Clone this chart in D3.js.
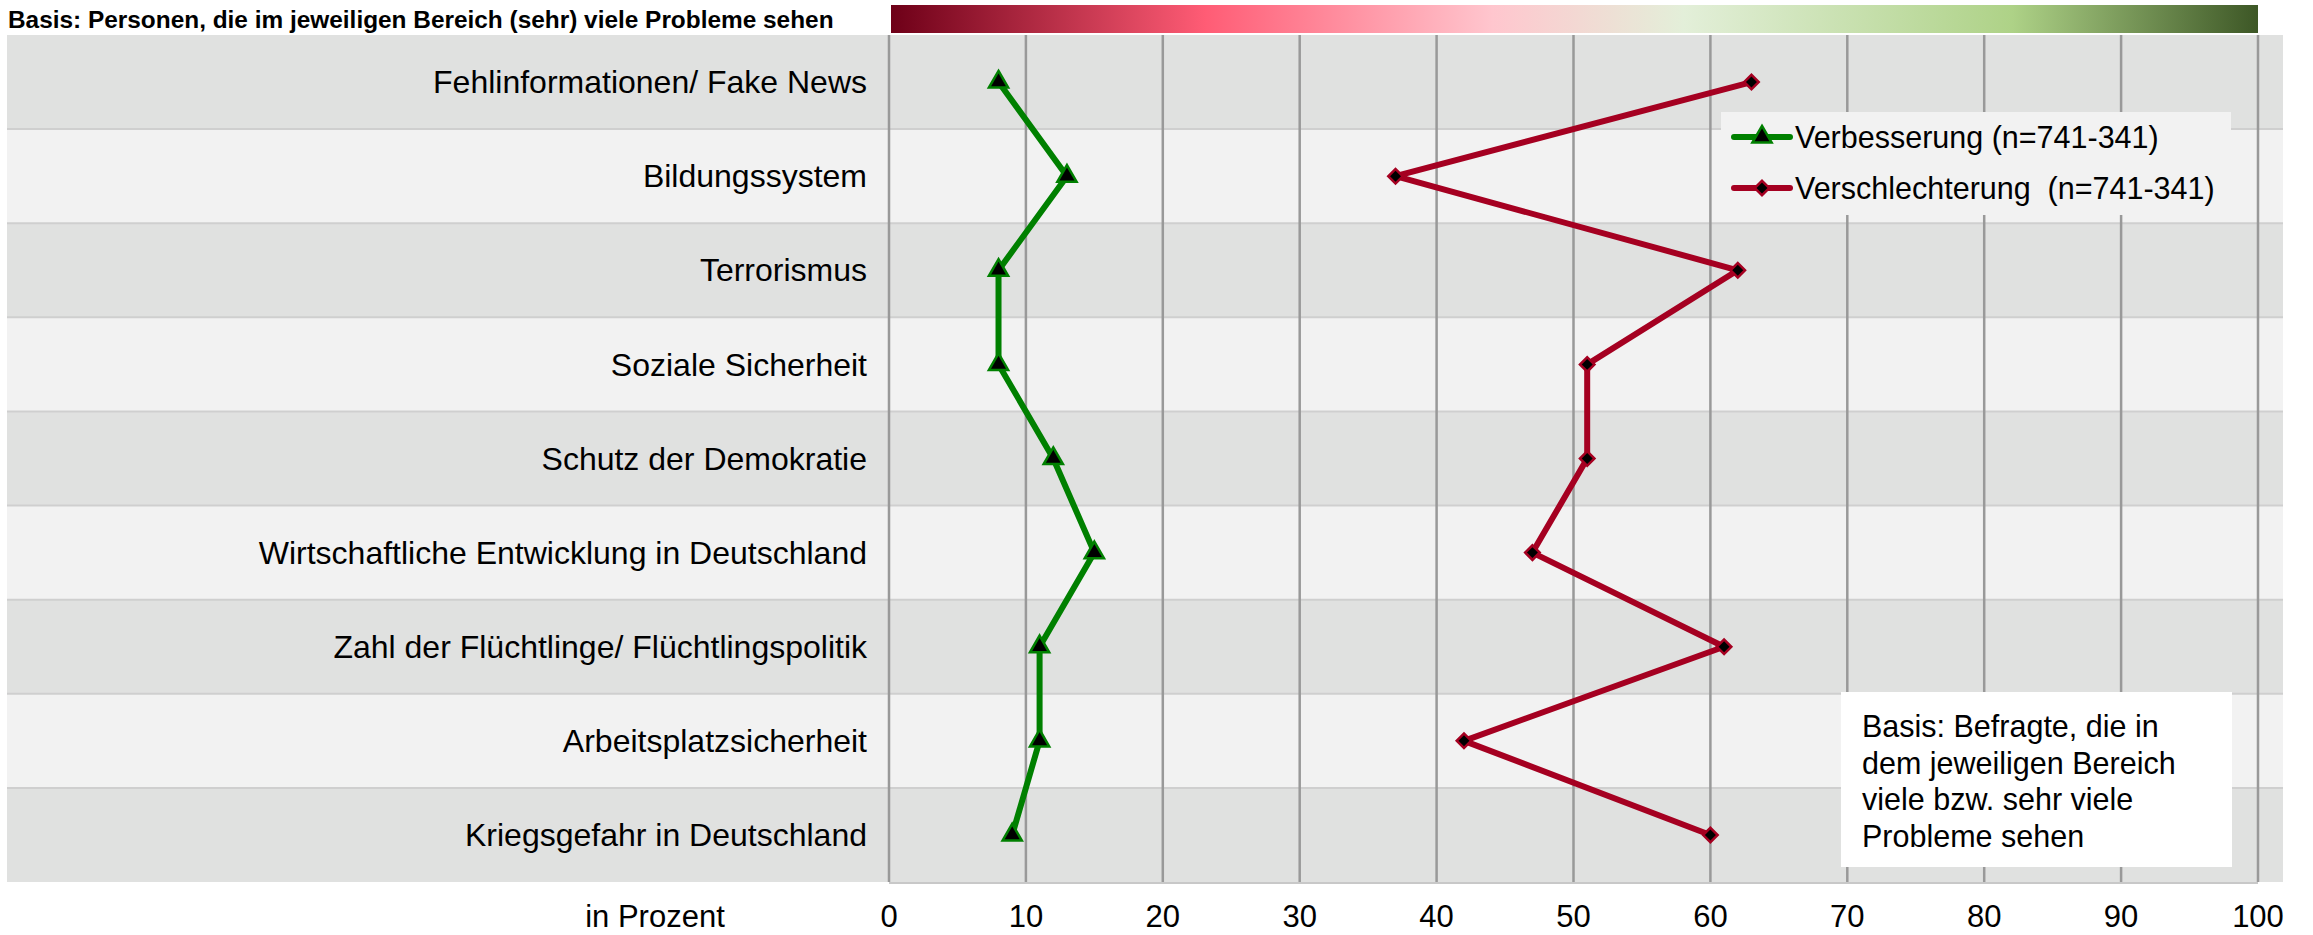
<!DOCTYPE html>
<html><head><meta charset="utf-8">
<script src="https://cdn.jsdelivr.net/npm/d3@7"></script>
<style>html,body{margin:0;padding:0;background:#fff;}svg{display:block;font-family:"Liberation Sans",Arial,sans-serif;}text{white-space:pre;}</style>
</head><body>
<script>
const categories = ["Fehlinformationen/ Fake News","Bildungssystem","Terrorismus","Soziale Sicherheit","Schutz der Demokratie","Wirtschaftliche Entwicklung in Deutschland","Zahl der Flüchtlinge/ Flüchtlingspolitik","Arbeitsplatzsicherheit","Kriegsgefahr in Deutschland"];
const verbesserung = [8,13,8,8,12,15,11,11,9];
const verschlechterung = [63,37,62,51,51,47,61,42,60];
const seriesNames = ["Verbesserung (n=741-341)","Verschlechterung  (n=741-341)"];
const xTicks = [0,10,20,30,40,50,60,70,80,90,100];
const title = "Basis: Personen, die im jeweiligen Bereich (sehr) viele Probleme sehen";
const axisLabel = "in Prozent";
const noteLines = ["Basis: Befragte, die in","dem jeweiligen Bereich","viele bzw. sehr viele","Probleme sehen"];

const W=2313,H=935;
const svg=d3.select("body").append("svg").attr("width",W).attr("height",H);
const x=d3.scaleLinear().domain([0,100]).range([889,2258]);
const y=d3.scaleBand().domain(categories).range([35,882]).padding(0);

// gradient bar
const defs=svg.append("defs");
const grad=defs.append("linearGradient").attr("id","g1");
[[0,"#6e0018"],[0.23,"#ff5c75"],[0.44,"#ffc6ce"],[0.58,"#e3efd9"],[0.82,"#aed287"],[1,"#3d5726"]]
 .forEach(s=>grad.append("stop").attr("offset",s[0]).attr("stop-color",s[1]));
svg.append("rect").attr("x",x(0)+2).attr("y",5).attr("width",x(100)-x(0)-2).attr("height",28).attr("fill","url(#g1)");

svg.append("text").attr("x",8).attr("y",28).attr("font-size",24.4).attr("font-weight","bold").attr("fill","#000").text(title);

// bands
svg.append("g").selectAll("rect").data(categories).join("rect")
 .attr("x",7).attr("y",d=>y(d)).attr("width",2283-7).attr("height",y.bandwidth())
 .attr("fill",(d,i)=>i%2===0?"#e0e1e0":"#f2f2f2");
svg.append("g").selectAll("line").data(categories.slice(1)).join("line")
 .attr("x1",7).attr("x2",2283).attr("y1",d=>y(d)).attr("y2",d=>y(d))
 .attr("stroke","#cfcfcf").attr("stroke-width",2);

// gridlines
svg.append("g").selectAll("line").data(xTicks).join("line")
 .attr("x1",d=>x(d)).attr("x2",d=>x(d)).attr("y1",35).attr("y2",882)
 .attr("stroke","#999").attr("stroke-width",2.5);
svg.append("line").attr("x1",x(0)).attr("x2",x(100)).attr("y1",883).attr("y2",883).attr("stroke","#c8c8c8").attr("stroke-width",2);

// category labels
svg.append("g").selectAll("text").data(categories).join("text")
 .attr("x",867).attr("y",d=>y(d)+y.bandwidth()/2).attr("dy","0.35em")
 .attr("text-anchor","end").attr("font-size",32).attr("fill","#000").text(d=>d);

// x tick labels
svg.append("g").selectAll("text").data(xTicks).join("text")
 .attr("x",d=>x(d)).attr("y",927).attr("text-anchor","middle").attr("font-size",31).text(d=>d);
svg.append("text").attr("x",655).attr("y",927).attr("text-anchor","middle").attr("font-size",31).text(axisLabel);

// lines
const line=d3.line().x(d=>x(d.v)).y(d=>y(d.c)+y.bandwidth()/2);
const gData=categories.map((c,i)=>({c,v:verbesserung[i]}));
const rData=categories.map((c,i)=>({c,v:verschlechterung[i]}));
const green="#008000", red="#a50021";
svg.append("path").datum(gData).attr("d",line).attr("fill","none").attr("stroke",green).attr("stroke-width",6).attr("stroke-linejoin","round");
svg.append("path").datum(rData).attr("d",line).attr("fill","none").attr("stroke",red).attr("stroke-width",6).attr("stroke-linejoin","round");
const tri=d3.symbol().type(d3.symbolTriangle).size(160);
const dia=d3.symbol().type(d3.symbolSquare).size(105);
svg.append("g").selectAll("path").data(gData).join("path")
 .attr("transform",d=>`translate(${x(d.v)},${y(d.c)+y.bandwidth()/2})`).attr("d",tri)
 .attr("fill","#000").attr("stroke",green).attr("stroke-width",2.5);
svg.append("g").selectAll("path").data(rData).join("path")
 .attr("transform",d=>`translate(${x(d.v)},${y(d.c)+y.bandwidth()/2}) rotate(45)`).attr("d",dia)
 .attr("fill","#000").attr("stroke",red).attr("stroke-width",2.5);

// legend
const lg=svg.append("g");
lg.append("rect").attr("x",1721).attr("y",112).attr("width",510).attr("height",103).attr("fill","#f2f2f2");
[[green,tri,137,""],[red,dia,188," rotate(45)"]].forEach((s,i)=>{
  lg.append("line").attr("x1",1734).attr("x2",1790).attr("y1",s[2]).attr("y2",s[2]).attr("stroke",s[0]).attr("stroke-width",6).attr("stroke-linecap","round");
  lg.append("path").attr("transform",`translate(1762,${s[2]})${s[3]}`).attr("d",s[1]).attr("fill","#000").attr("stroke",s[0]).attr("stroke-width",2.5);
  lg.append("text").attr("x",1795).attr("y",s[2]).attr("dy","0.35em").attr("font-size",30.5).text(seriesNames[i]);
});

// note
const ng=svg.append("g");
ng.append("rect").attr("x",1841).attr("y",692).attr("width",391).attr("height",175).attr("fill","#fff");
ng.selectAll("text").data(noteLines).join("text").attr("x",1862).attr("y",(d,i)=>737+i*36.7).attr("font-size",30.5).text(d=>d);
</script>
</body></html>
